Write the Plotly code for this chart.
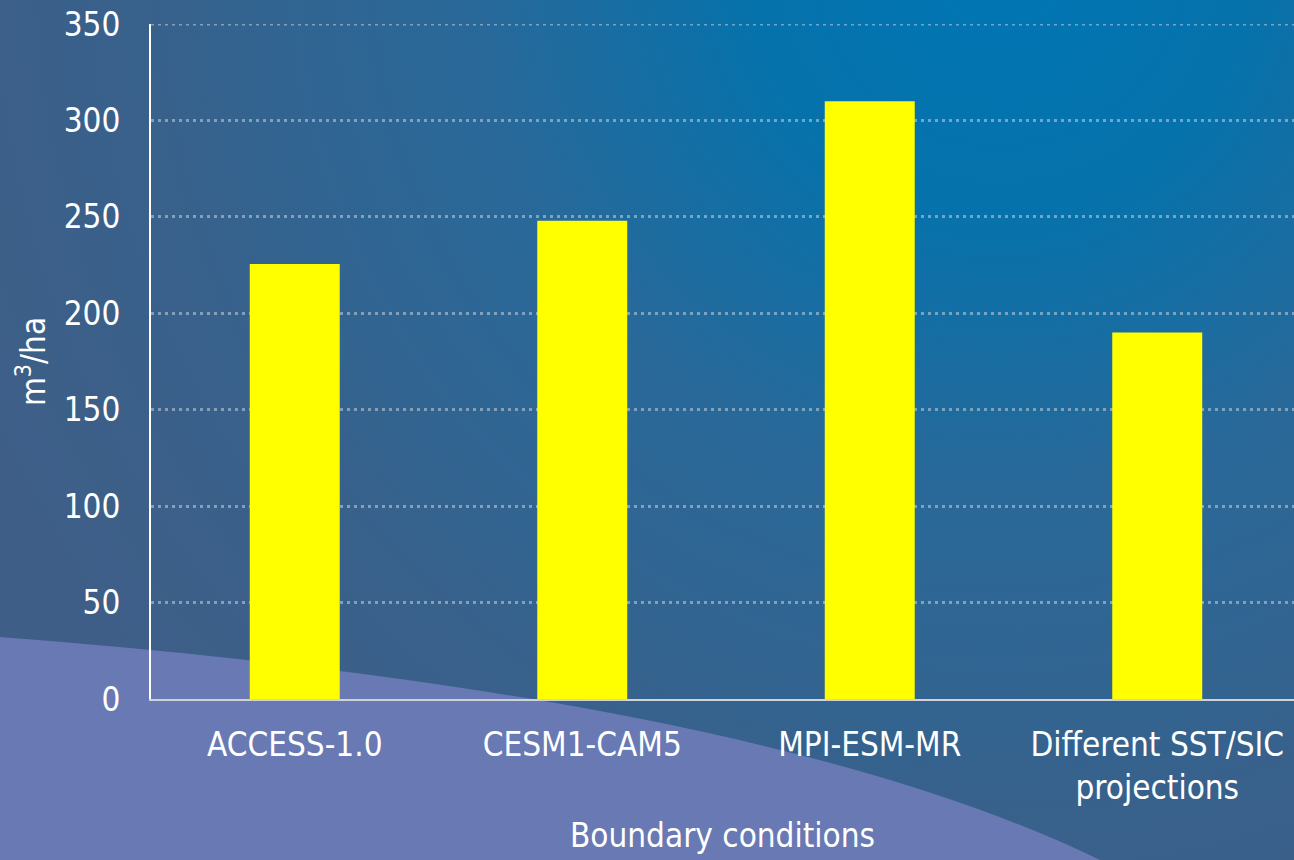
import base64
import plotly.graph_objects as go

categories = ["ACCESS-1.0", "CESM1-CAM5", "MPI-ESM-MR", "Different SST/SIC<br>projections"]
values = [225.5, 248, 310, 190]
y_ticks = [0, 50, 100, 150, 200, 250, 300, 350]

W, H = 1294, 860
ML, MR, MT, MB = 151, 0, 24, 161
PW, PH = W - ML - MR, H - MT - MB

FONT = "DejaVu Sans Condensed, Noto Sans, sans-serif"
GRID_COLOR = "rgba(185,200,215,0.6)"
GRID_DASH = "3px,4px"

svg = f'''<svg xmlns="http://www.w3.org/2000/svg" width="{W}" height="{H}" viewBox="0 0 {W} {H}">
<defs><radialGradient id="g" gradientUnits="userSpaceOnUse" cx="1000" cy="-40" r="1150">
<stop offset="0" stop-color="#0076b4"/>
<stop offset="0.22" stop-color="#0672ab"/>
<stop offset="0.45" stop-color="#28699a"/>
<stop offset="0.75" stop-color="#38618b"/>
<stop offset="1" stop-color="#3f5e87"/>
</radialGradient></defs>
<rect width="{W}" height="{H}" fill="url(#g)"/>
<path d="M0,637 Q760,695 1100,860 L0,860 Z" fill="#6879b4"/>
</svg>'''
src = "data:image/svg+xml;base64," + base64.b64encode(svg.encode()).decode()

fig = go.Figure(go.Bar(
    x=categories, y=values, width=0.313,
    marker=dict(color="#ffff00", line=dict(width=0)),
    hoverinfo="skip",
))

fig.update_layout(
    width=W, height=H,
    margin=dict(l=ML, r=MR, t=MT, b=MB, pad=0),
    paper_bgcolor="#3f5e87",
    plot_bgcolor="rgba(0,0,0,0)",
    font=dict(family=FONT, size=33, color="white"),
    showlegend=False,
    images=[dict(
        source=src, xref="paper", yref="paper",
        x=-ML / PW, y=1 + MT / PH, sizex=W / PW, sizey=H / PH,
        xanchor="left", yanchor="top", sizing="stretch", layer="below",
    )],
    shapes=[dict(
        type="line", xref="paper", x0=0, x1=1, yref="y", y0=y_ticks[-1], y1=y_ticks[-1],
        line=dict(color=GRID_COLOR, width=3, dash=GRID_DASH), layer="below",
    )],
)

fig.update_xaxes(
    range=[-0.5, -0.5 + PW / 287.5],
    showline=True, linecolor="#cfd3d8", linewidth=2,
    showgrid=False, zeroline=False,
    ticks="outside", ticklen=15, tickcolor="rgba(0,0,0,0)",
    tickfont=dict(size=33, color="white"),
    title=dict(text="Boundary conditions", font=dict(size=33, color="white"), standoff=18),
)
fig.update_yaxes(
    range=[0, 350], tickvals=y_ticks,
    showline=True, linecolor="white", linewidth=2,
    showgrid=True, gridcolor=GRID_COLOR, gridwidth=3, griddash=GRID_DASH,
    zeroline=False,
    ticks="outside", ticklen=22, tickcolor="rgba(0,0,0,0)",
    tickfont=dict(size=33, color="white"),
    title=dict(text="m<sup>3</sup>/ha", font=dict(size=33, color="white"), standoff=8),
)

fig.write_html("out.html")
